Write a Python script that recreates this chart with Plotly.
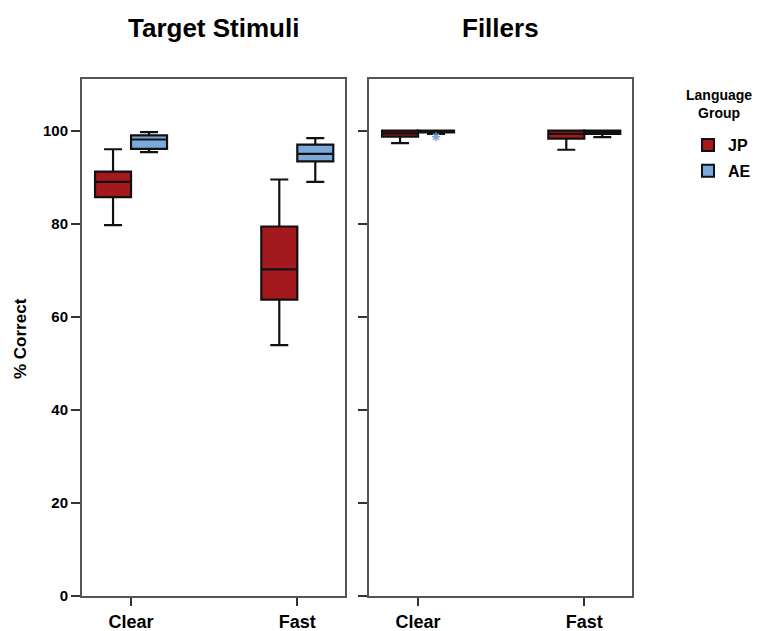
import plotly.graph_objects as go
from plotly.subplots import make_subplots

# Conditions on the x axis and the two stimulus panels
categories = ["Clear", "Fast"]
panels = ["Target Stimuli", "Fillers"]
groups = ["JP", "AE"]

# Box statistics (% correct) per panel, per group, per condition
jp_target = dict(lower=[79.7, 53.9], q1=[85.7, 63.7], median=[89.0, 70.2], q3=[91.2, 79.4], upper=[96.0, 89.5])
ae_target = dict(lower=[95.4, 89.0], q1=[96.1, 93.4], median=[98.1, 95.0], q3=[99.0, 97.0], upper=[99.7, 98.4])
jp_fillers = dict(lower=[97.3, 95.9], q1=[98.7, 98.3], median=[99.4, 99.3], q3=[100.0, 100.0], upper=[100.0, 100.0])
ae_fillers = dict(lower=[99.3, 98.6], q1=[99.6, 99.3], median=[100.0, 99.8], q3=[100.0, 100.0], upper=[100.0, 100.0])

# Extreme value shown as a star (AE, Fillers, Clear)
ae_fillers_outlier_cond = ["Clear"]
ae_fillers_outlier_val = [98.7]

colors = {"JP": "#a3191d", "AE": "#7aaadc"}
FONT = "Liberation Sans, Arial, sans-serif"
BOXGAP = 0.567

fig = make_subplots(rows=1, cols=2, shared_yaxes=False, horizontal_spacing=0.0)

xpos = list(range(len(categories)))
stats = {1: {"JP": jp_target, "AE": ae_target}, 2: {"JP": jp_fillers, "AE": ae_fillers}}

for col in (1, 2):
    for g in groups:
        s = stats[col][g]
        fig.add_trace(
            go.Box(
                x=xpos,
                q1=s["q1"], median=s["median"], q3=s["q3"],
                lowerfence=s["lower"], upperfence=s["upper"],
                name=g, legendgroup=g, offsetgroup=g, showlegend=(col == 1),
                fillcolor=colors[g],
                line=dict(color="#111111", width=2.2),
                whiskerwidth=0.5,
                boxpoints=False,
                hoverinfo="skip",
            ),
            row=1, col=col,
        )

# outlier star, dodged to the AE box position
dodge = (1 - BOXGAP) / 4
fig.add_trace(
    go.Scatter(
        x=[categories.index(c) + dodge for c in ae_fillers_outlier_cond],
        y=ae_fillers_outlier_val,
        mode="markers",
        marker=dict(symbol="asterisk-open", size=7, color=colors["AE"], line=dict(width=1.5, color=colors["AE"])),
        showlegend=False, hoverinfo="skip",
    ),
    row=1, col=2,
)

axis_line = "#555555"
L, R, T, B = 82, 135, 79, 35
W, H = 767, 631
pw = W - L - R
ph = H - T - B


def px_x(p):
    return (p - L) / pw


def px_y(p):
    return (H - B - p) / ph


fig.update_layout(
    width=W, height=H,
    margin=dict(l=L, r=R, t=T, b=B, autoexpand=False),
    paper_bgcolor="white", plot_bgcolor="white",
    boxmode="group", boxgap=BOXGAP, boxgroupgap=0,
    font=dict(family=FONT, color="#000000"),
    legend=dict(
        font=dict(family=FONT, size=16, weight="bold"),
        x=px_x(688), y=px_y(128),
        xanchor="left", yanchor="top",
        bgcolor="rgba(0,0,0,0)", itemsizing="constant",
        tracegroupgap=2,
    ),
)

xcommon = dict(
    range=[-0.295, 1.287], tickvals=xpos, ticktext=categories,
    showline=True, linecolor=axis_line, linewidth=2, mirror=True,
    ticks="outside", ticklen=8, tickwidth=1.5, tickcolor="#333333",
    showgrid=False, zeroline=False, automargin=False,
    tickfont=dict(family=FONT, size=18, weight="bold"),
)
fig.update_xaxes(**xcommon, domain=[0, px_x(345)], row=1, col=1)
fig.update_xaxes(**xcommon, domain=[px_x(369), 1], row=1, col=2)

ycommon = dict(
    range=[0, 111.1], tickvals=[0, 20, 40, 60, 80, 100],
    showline=True, linecolor=axis_line, linewidth=2, mirror=True,
    ticks="outside", ticklen=9, tickwidth=1.5, tickcolor="#333333",
    showgrid=False, zeroline=False, automargin=False,
    tickfont=dict(family=FONT, size=15, weight="bold"),
)
fig.update_yaxes(**ycommon, row=1, col=1)
fig.update_yaxes(**ycommon, showticklabels=False, row=1, col=2)

# panel titles
for name, cx in zip(panels, [213.5, 500.5]):
    fig.add_annotation(
        text=name, xref="paper", yref="paper",
        x=px_x(cx), y=px_y(28),
        xanchor="center", yanchor="middle", showarrow=False,
        font=dict(family=FONT, size=26, weight="bold"),
    )

# legend heading, centred on two lines
fig.add_annotation(
    text="Language<br>Group", xref="paper", yref="paper",
    x=px_x(719), y=px_y(104), align="center",
    xanchor="center", yanchor="middle", showarrow=False,
    font=dict(family=FONT, size=14, weight="bold"),
)

# y axis title
fig.add_annotation(
    text="% Correct", xref="paper", yref="paper",
    x=px_x(20), y=px_y(339),
    xanchor="center", yanchor="middle", textangle=-90, showarrow=False,
    font=dict(family=FONT, size=17, weight="bold"),
)

fig.write_html("out.html")
